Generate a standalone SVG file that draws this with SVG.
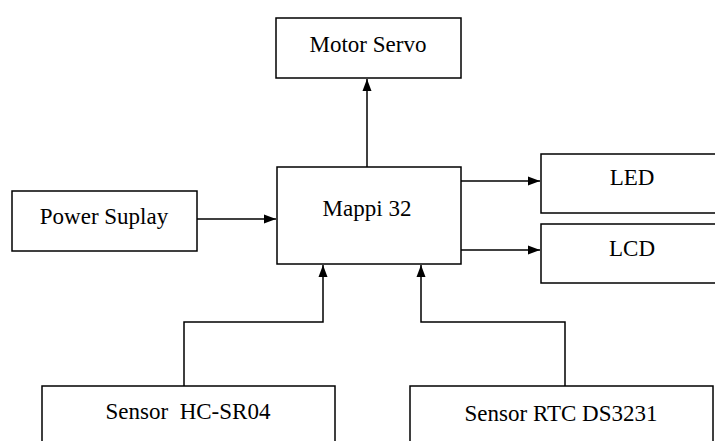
<svg xmlns="http://www.w3.org/2000/svg" width="715" height="441" viewBox="0 0 715 441">
<style>
.box{fill:#fff;stroke:#000;stroke-width:1.5}
.lbl{font-family:'Liberation Serif','Times New Roman',serif;font-size:23px;fill:#000;text-anchor:middle}
.con{fill:none;stroke:#000;stroke-width:1.5}
</style>
<defs>
<marker id="ah" viewBox="0 0 12 10" refX="12" refY="5" markerWidth="12" markerHeight="10" markerUnits="userSpaceOnUse" orient="auto">
<path d="M0,0.5 L12,5 L0,9.5 Z" fill="#000"/>
</marker>
</defs>
<rect width="715" height="441" fill="#fff"/>
<g id="connectors">
<path class="con" d="M367,167 V79" marker-end="url(#ah)"/>
<path class="con" d="M197,219 H276" marker-end="url(#ah)"/>
<path class="con" d="M461,181 H540" marker-end="url(#ah)"/>
<path class="con" d="M461,250 H540" marker-end="url(#ah)"/>
<path class="con" d="M184,386 V322 H323 V265" marker-end="url(#ah)"/>
<path class="con" d="M565,386 V322 H421 V265" marker-end="url(#ah)"/>
</g>
<g id="motor-servo">
<rect class="box" x="276" y="18" width="185" height="60"/>
<text class="lbl" x="368" y="52">Motor Servo</text>
</g>
<g id="mappi32">
<rect class="box" x="277" y="167" width="184" height="97"/>
<text class="lbl" x="367" y="216">Mappi 32</text>
</g>
<g id="power-suplay">
<rect class="box" x="12" y="191" width="185" height="60"/>
<text class="lbl" x="104" y="224">Power Suplay</text>
</g>
<g id="led">
<rect class="box" x="541" y="154" width="180" height="59"/>
<text class="lbl" x="632" y="185">LED</text>
</g>
<g id="lcd">
<rect class="box" x="541" y="224" width="180" height="59"/>
<text class="lbl" x="632" y="256">LCD</text>
</g>
<g id="sensor-hcsr04">
<rect class="box" x="42" y="386" width="293" height="70"/>
<text class="lbl" x="188" y="419" xml:space="preserve">Sensor  HC-SR04</text>
</g>
<g id="sensor-rtc">
<rect class="box" x="410" y="386" width="303" height="70"/>
<text class="lbl" x="561" y="421">Sensor RTC DS3231</text>
</g>
</svg>
